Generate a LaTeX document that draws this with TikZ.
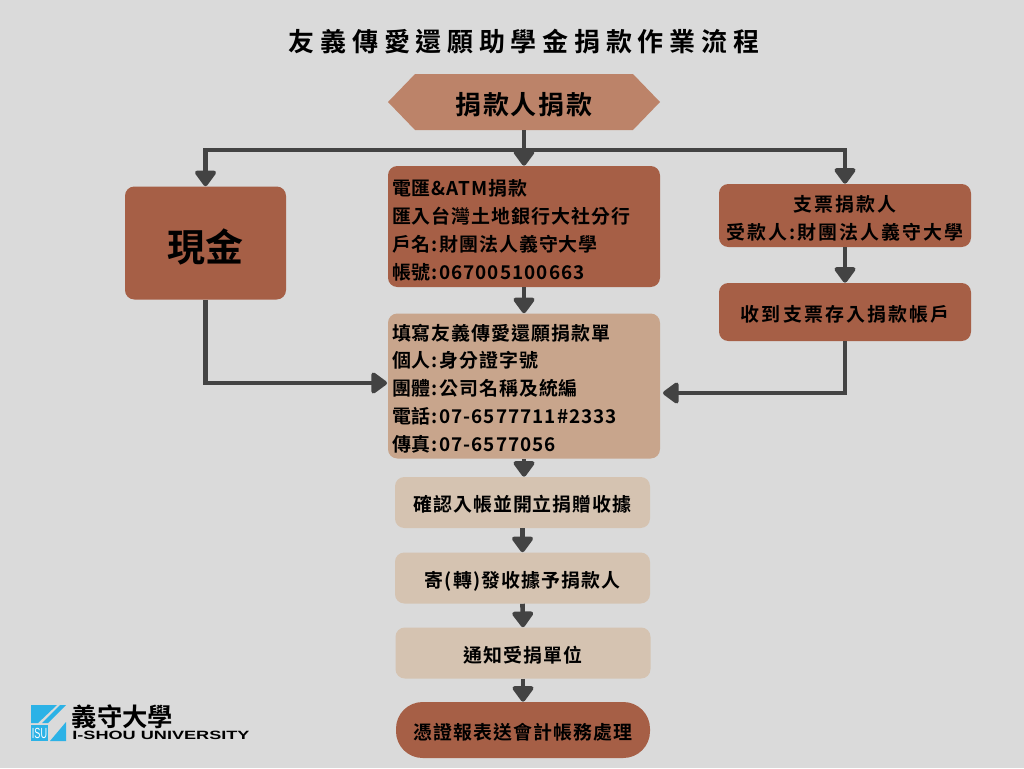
\documentclass[tikz,border=0pt]{standalone}
\usepackage{fontspec}
\setmainfont{Noto Sans CJK TC Bold}
\newfontfamily\logofont[FakeStretch=1.51]{Liberation Sans Bold}
\newfontfamily\isufont[FakeStretch=0.62]{Liberation Sans}
\usetikzlibrary{shapes.symbols,arrows.meta}
\definecolor{bgcol}{HTML}{DADADA}
\definecolor{darkbox}{HTML}{A65F46}
\definecolor{hexcol}{HTML}{BC8369}
\definecolor{midbox}{HTML}{C8A58C}
\definecolor{lightbox}{HTML}{D5C3B1}
\definecolor{linecol}{HTML}{434343}
\definecolor{isublue}{HTML}{2CB2E6}
\newcommand{\bodyfont}{\fontsize{14.2}{20.9}\selectfont\addfontfeatures{LetterSpace=5.5}}
\newcommand{\widefont}{\fontsize{14.2}{20.9}\selectfont\addfontfeatures{LetterSpace=11}}
\tikzset{
	wire/.style={line width=3.5pt, draw=linecol},
	flow/.style={wire, -{Triangle[length=13pt, width=18pt, round]}},
	box/.style={rounded corners=7pt, align=center, inner sep=0pt, text=black, font=\bodyfont},
	oneline/.style={box, text height=15pt, text depth=1pt},
	listbox/.style={box, align=left, text width=198pt, inner xsep=3pt},
}
\begin{document}
\begin{tikzpicture}[x=0.75pt, y=-0.75pt]
	\useasboundingbox (0, 0) rectangle (1024, 768);
	\fill[bgcol] (0, 0) rectangle (1024, 768);

	% title
	\node[font=\fontsize{19.5}{24}\selectfont\addfontfeatures{LetterSpace=22}] (title) at (524, 42) {友義傳愛還願助學金捐款作業流程};

	% boxes
	\node[signal, signal to=east and west, signal pointer angle=92, fill=hexcol, minimum width=204pt, minimum height=42pt, inner sep=0pt, font=\fontsize{19.5}{24}\selectfont\addfontfeatures{LetterSpace=6}, text height=20pt, text depth=1pt] (donor) at (524, 102) {捐款人捐款};
	\node[oneline, fill=darkbox, minimum width=120.75pt, minimum height=84.75pt, font=\fontsize{28.5}{32}\selectfont\addfontfeatures{LetterSpace=2}, text height=28pt, text depth=1pt] (cash) at (205.5, 243) {現金};
	\node[listbox, fill=darkbox, minimum height=90.75pt] (transfer) at (524, 226.5) {\rule{0pt}{18pt}電匯\&ATM捐款\\匯入台灣土地銀行大社分行\\戶名:財團法人義守大學\\帳號:067005100663};
	\node[box, fill=darkbox, minimum width=189pt, minimum height=47.25pt, font=\widefont] (check) at (845, 215.5) {\rule{0pt}{16.5pt}支票捐款人\\受款人:財團法人義守大學};
	\node[oneline, fill=darkbox, minimum width=189pt, minimum height=43.5pt, font=\widefont] (deposit) at (845, 312) {收到支票存入捐款帳戶};
	\node[listbox, fill=midbox, minimum height=108.75pt] (form) at (524, 386) {\rule{0pt}{16pt}填寫友義傳愛還願捐款單\\個人:身分證字號\\團體:公司名稱及統編\\電話:07-6577711\#2333\\傳真:07-6577056};
	\node[oneline, fill=lightbox, minimum width=191.25pt, minimum height=38.25pt] (confirm) at (522.5, 502.5) {確認入帳並開立捐贈收據};
	\node[oneline, fill=lightbox, minimum width=191.25pt, minimum height=38.25pt] (mail) at (522.5, 578) {寄(轉)發收據予捐款人};
	\node[oneline, fill=lightbox, minimum width=191.25pt, minimum height=38.25pt] (notify) at (523, 653) {通知受捐單位};
	\node[oneline, fill=darkbox, rounded corners=20pt, minimum width=190.5pt, minimum height=42pt] (voucher) at (523, 730) {憑證報表送會計帳務處理};

	% connectors
	\coordinate (split) at (524, 150);
	\coordinate (cashin) at (387, 383);
	\coordinate (depositin) at (663, 393);
	\draw[flow] (donor.south) -- (transfer.north);
	\draw[wire] (205, 150) -- (845, 150);
	\draw[flow] (split) -| (cash.north);
	\draw[flow] (split) -| (check.north);
	\draw[flow] (transfer.south) -- (form.north);
	\draw[flow] (check.south) -- (deposit.north);
	\draw[flow] (cash.south) |- (cashin);
	\draw[flow] (deposit.south) |- (depositin);
	\draw[flow] (form.south) -- (form.south |- confirm.north);
	\draw[flow] (confirm.south) -- (mail.north);
	\draw[flow] (mail.south) -- (notify.north);
	\draw[flow] (notify.south) -- (voucher.north);

	% logo
	\fill[isublue] (31, 705) -- (57, 705) -- (38, 723) -- (31, 723) -- cycle;
	\fill[isublue] (60, 705) -- (66, 705) -- (48, 723) -- (42, 723) -- cycle;
	\fill[isublue] (66, 722) -- (66, 741) -- (50, 741) -- cycle;
	\fill[isublue] (31, 725) rectangle (48, 741);
	\node[white, inner sep=0pt, font=\isufont\fontsize{11}{12}\selectfont] (isu) at (39.5, 733) {ISU};
	\node[inner sep=0pt, font=\fontsize{19}{20}\selectfont] (logocn) at (122.5, 717) {義守大學};
	\node[inner sep=0pt, font=\logofont\fontsize{9}{11}\selectfont] (logoen) at (161, 735) {I-SHOU UNIVERSITY};
\end{tikzpicture}
\end{document}
